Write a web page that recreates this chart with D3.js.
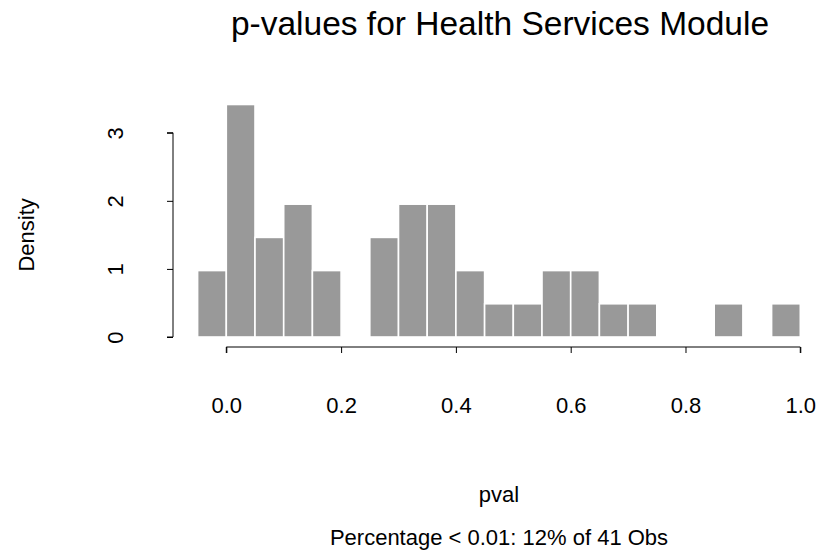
<!DOCTYPE html>
<html>
<head>
<meta charset="utf-8">
<script src="https://cdn.jsdelivr.net/npm/d3@7"></script>
<style>
  html, body { margin: 0; padding: 0; background: #fff; }
  svg { display: block; font-family: "Liberation Sans", Arial, Helvetica, sans-serif; }
</style>
</head>
<body>
<svg id="chart" width="830" height="556"></svg>
<script>
// Histogram of p-values: bin edges (width 0.05) and density per bin
const binStarts = [-0.05, 0.00, 0.05, 0.10, 0.15, 0.20, 0.25, 0.30, 0.35, 0.40,
                   0.45, 0.50, 0.55, 0.60, 0.65, 0.70, 0.75, 0.80, 0.85, 0.90, 0.95];
const binWidth = 0.05;
const densities = [0.976, 3.415, 1.463, 1.951, 0.976, 0, 1.463, 1.951, 1.951, 0.976,
                   0.488, 0.488, 0.976, 0.976, 0.488, 0.488, 0, 0, 0.488, 0, 0.488];
const xTicks = [0.0, 0.2, 0.4, 0.6, 0.8, 1.0];
const yTicks = [0, 1, 2, 3];

const titleText = "p-values for Health Services Module";
const xLabel = "pval";
const yLabel = "Density";
const subText = "Percentage < 0.01: 12% of 41 Obs";

const svg = d3.select("#chart");
const labelSize = 22;

// Plot region with the usual 4% padding around the data range
const xMin = -0.05, xMax = 1.0, yMax = d3.max(densities);
const xPad = (xMax - xMin) * 0.04, yPad = yMax * 0.04;
const x = d3.scaleLinear().domain([xMin - xPad, xMax + xPad]).range([173.5, 824.4]);
const y = d3.scaleLinear().domain([-yPad, yMax + yPad]).range([346.3, 95.2]);

// Bars
svg.append("g")
  .selectAll("rect")
  .data(binStarts.map((s, i) => ({ s, d: densities[i] })).filter(b => b.d > 0))
  .join("rect")
  .attr("x", b => x(b.s))
  .attr("width", b => x(b.s + binWidth) - x(b.s))
  .attr("y", b => y(b.d))
  .attr("height", b => y(0) - y(b.d))
  .attr("fill", "#999999")
  .attr("stroke", "#ffffff")
  .attr("stroke-width", 1.6);

// X axis
const xAxis = d3.axisBottom(x).tickValues(xTicks).tickSize(6).tickFormat(d3.format(".1f"));
const gx = svg.append("g").attr("transform", "translate(0,347)").call(xAxis);
gx.select(".domain").attr("d", `M${x(0)},6V0H${x(1)}V6`).attr("stroke", "#000");
gx.selectAll(".tick line").attr("stroke", "#000");
gx.selectAll(".tick text")
  .attr("y", 66).attr("dy", null)
  .attr("font-size", labelSize).attr("fill", "#000")
  .attr("font-family", "Liberation Sans, Arial, sans-serif");

// Y axis
const yAxis = d3.axisLeft(y).tickValues(yTicks).tickSize(6).tickFormat(d3.format("d"));
const gy = svg.append("g").attr("transform", "translate(173,0)").call(yAxis);
gy.select(".domain").attr("d", `M-6,${y(0)}H0V${y(3)}H-6`).attr("stroke", "#000");
gy.selectAll(".tick line").attr("stroke", "#000");
gy.selectAll(".tick text")
  .attr("x", 0).attr("y", 0).attr("dy", null)
  .attr("text-anchor", "middle")
  .attr("transform", "translate(-50,0) rotate(-90)")
  .attr("font-size", labelSize).attr("fill", "#000")
  .attr("font-family", "Liberation Sans, Arial, sans-serif");

// Title and labels
svg.append("text")
  .attr("x", 500).attr("y", 35)
  .attr("text-anchor", "middle")
  .attr("font-size", 33.5)
  .text(titleText);

svg.append("text")
  .attr("x", 499).attr("y", 502)
  .attr("text-anchor", "middle")
  .attr("font-size", labelSize)
  .text(xLabel);

svg.append("text")
  .attr("x", 499).attr("y", 545)
  .attr("text-anchor", "middle")
  .attr("font-size", labelSize)
  .text(subText);

svg.append("text")
  .attr("transform", `translate(34,${y(1.5)}) rotate(-90)`)
  .attr("text-anchor", "middle")
  .attr("font-size", labelSize)
  .text(yLabel);
</script>
</body>
</html>
